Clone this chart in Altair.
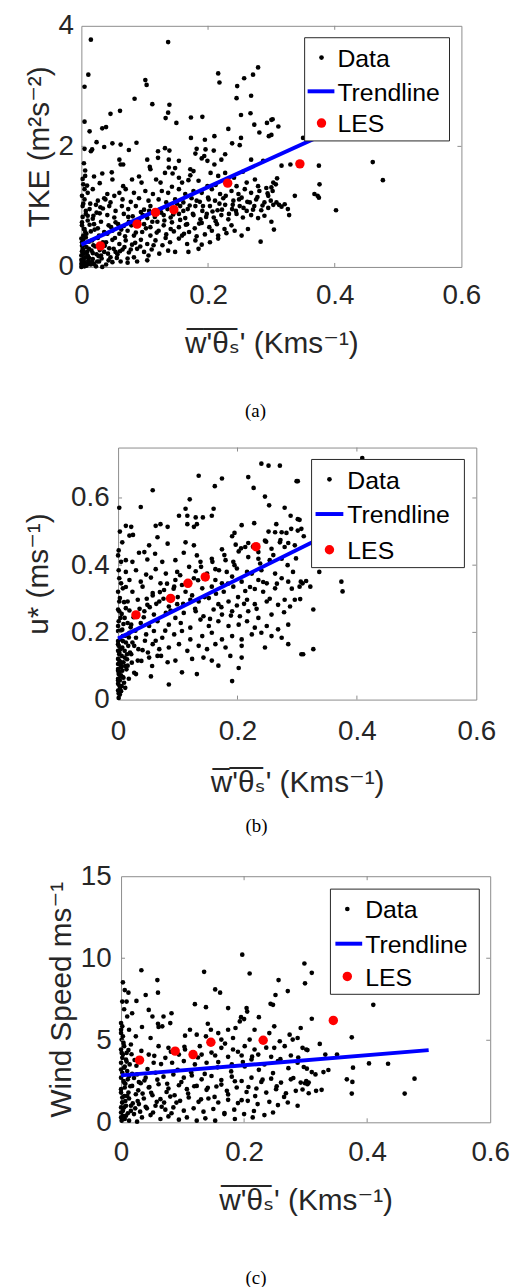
import altair as alt
import pandas as pd

FONT = "Liberation Sans, Arial, DejaVu Sans, sans-serif"
SERIF = "Liberation Serif, Times New Roman, serif"
AX = "#8c8c8c"
TXT = "#262626"

# ---------------- shared values ----------------
x_ticks = [0, 0.2, 0.4, 0.6]
x_title = "w\u0305'\u0305\u03b8\u0305\u209b' (Kms\u207b\u00b9)"
legend_labels = ["Data", "Trendline", "LES"]

les_x = [0.030, 0.088, 0.117, 0.146, 0.231, 0.345]
trend_x = [0.0, 0.5]

# ---------------- panel (a): TKE ----------------
les_tke = [0.35, 0.71, 0.905, 0.95, 1.39, 1.71]
trend_tke = [0.37, 2.76]
tke_pts = [
    [0.015,3.77],[0.137,3.73],[0.011,3.19],[0.216,3.21],[0.279,3.31],[0.271,3.19],[0.257,3.13],[0.101,3.10],
    [0.103,3.02],[0.218,3.06],[0.246,3.00],[0.005,2.99],[0.084,2.79],[0.245,2.80],[0.268,2.84],[0.112,2.70],
    [0.139,2.69],[0.137,2.56],[0.046,2.54],[0.061,2.59],[0.005,2.41],[0.133,2.47],[0.150,2.39],[0.173,2.48],
    [0.191,2.49],[0.252,2.52],[0.267,2.55],[0.273,2.36],[0.293,2.39],[0.300,2.44],[0.013,2.25],[0.033,2.30],
    [0.039,2.32],[0.232,2.29],[0.252,2.14],[0.281,2.23],[0.173,2.14],[0.195,2.11],[0.210,2.17],[0.296,2.17],
    [0.024,2.07],[0.036,1.99],[0.049,2.05],[0.062,2.03],[0.087,2.06],[0.132,1.97],[0.182,1.96],[0.196,1.95],
    [0.180,1.88],[0.209,1.93],[0.227,1.87],[0.250,2.02],[0.238,2.05],[0.005,1.96],[0.015,1.92],[0.017,1.95],
    [0.060,1.78],[0.075,1.94],[0.121,1.92],[0.139,1.93],[0.104,1.78],[0.108,1.66],[0.121,1.81],[0.138,1.78],
    [0.154,1.76],[0.062,1.70],[0.066,1.70],[0.138,1.65],[0.148,1.64],[0.172,1.62],[0.190,1.80],[0.194,1.84],
    [0.199,1.76],[0.221,1.78],[0.210,1.70],[0.268,1.78],[0.287,1.76],
    [0.006,1.51],[0.020,1.50],[0.033,1.55],[0.048,1.57],[0.091,1.50],[0.109,1.62],[0.118,1.45],[0.132,1.56],
    [0.144,1.55],[0.154,1.48],[0.172,1.52],[0.177,1.59],[0.204,1.56],[0.216,1.51],[0.227,1.56],[0.241,1.48],
    [0.255,1.58],[0.274,1.45],[0.003,1.37],[0.029,1.39],[0.049,1.45],[0.066,1.34],[0.080,1.45],[0.095,1.40],
    [0.125,1.40],[0.143,1.33],[0.159,1.40],[0.169,1.44],[0.185,1.43],[0.199,1.34],[0.212,1.36],[0.245,1.34],
    [0.261,1.40],[0.279,1.34],[0.292,1.31],
    [0.010,1.23],[0.018,1.29],[0.041,1.21],[0.052,1.18],[0.060,1.23],[0.070,1.29],[0.083,1.23],[0.101,1.26],
    [0.113,1.21],[0.127,1.26],[0.137,1.23],[0.154,1.29],[0.164,1.21],[0.177,1.26],[0.190,1.23],[0.206,1.29],
    [0.219,1.21],[0.237,1.26],[0.248,1.21],[0.258,1.29],[0.268,1.23],[0.281,1.26],[0.295,1.18],
    [0.005,1.12],[0.026,1.10],[0.036,1.14],[0.046,1.07],[0.065,1.12],[0.078,1.08],[0.091,1.14],[0.106,1.10],
    [0.122,1.12],[0.134,1.07],[0.148,1.12],[0.161,1.07],[0.174,1.14],[0.187,1.08],[0.200,1.15],[0.211,1.10],
    [0.224,1.14],[0.240,1.10],[0.253,1.15],[0.266,1.07],[0.276,1.12],[0.289,1.07],[0.299,1.10],
    [0.002,1.01],[0.013,0.96],[0.023,1.03],[0.034,0.97],[0.044,1.01],[0.054,0.93],[0.064,1.01],[0.074,0.96],
    [0.086,1.01],[0.099,0.95],[0.109,1.01],[0.125,0.96],[0.135,1.01],[0.156,1.01],[0.168,0.96],[0.180,1.01],
    [0.191,0.93],[0.203,1.01],[0.215,0.94],[0.227,1.03],[0.238,0.96],[0.250,1.01],[0.261,0.93],[0.273,1.01],
    [0.284,0.94],[0.295,0.98],
    [0.007,0.88],[0.019,0.85],[0.029,0.89],[0.041,0.86],[0.052,0.82],[0.067,0.88],[0.081,0.84],[0.094,0.91],
    [0.104,0.81],[0.130,0.86],[0.141,0.82],[0.154,0.88],[0.164,0.81],[0.177,0.86],[0.188,0.79],[0.198,0.88],
    [0.209,0.82],[0.221,0.86],[0.232,0.79],[0.245,0.88],[0.255,0.82],[0.268,0.86],[0.279,0.81],[0.289,0.85],
    [0.001,0.74],[0.010,0.77],[0.020,0.71],[0.031,0.75],[0.043,0.69],[0.054,0.74],[0.067,0.68],[0.075,0.75],
    [0.099,0.71],[0.109,0.66],[0.120,0.75],[0.130,0.69],[0.143,0.74],[0.154,0.66],[0.167,0.71],[0.179,0.64],
    [0.190,0.73],[0.202,0.66],[0.214,0.71],[0.226,0.63],[0.237,0.69],[0.253,0.52],[0.263,0.63],[0.283,0.42],
    [0.005,0.63],[0.015,0.59],[0.026,0.64],[0.036,0.58],[0.049,0.60],[0.060,0.55],[0.073,0.60],[0.083,0.52],
    [0.096,0.58],[0.109,0.52],[0.122,0.60],[0.134,0.54],[0.146,0.59],[0.159,0.52],[0.170,0.58],[0.182,0.51],
    [0.195,0.54],[0.206,0.60],[0.216,0.52],[0.229,0.56],[0.242,0.60],
    [0.000,0.47],[0.007,0.49],[0.017,0.44],[0.026,0.48],[0.039,0.41],[0.049,0.45],[0.060,0.38],[0.070,0.44],
    [0.080,0.37],[0.094,0.45],[0.104,0.38],[0.117,0.44],[0.128,0.36],[0.140,0.41],[0.154,0.47],[0.167,0.38],
    [0.180,0.44],[0.190,0.37],[0.203,0.41],[0.216,0.47],
    [0.003,0.36],[0.012,0.30],[0.022,0.34],[0.044,0.31],[0.054,0.25],[0.065,0.29],[0.075,0.24],[0.088,0.30],
    [0.099,0.25],[0.111,0.29],[0.123,0.22],[0.137,0.27],[0.148,0.25],[0.169,0.25],[0.185,0.30],[0.002,0.22],
    [0.010,0.19],[0.018,0.23],[0.027,0.18],[0.036,0.25],[0.046,0.16],[0.057,0.21],[0.073,0.14],[0.083,0.16],
    [0.106,0.19],
    [0.000,0.12],[0.005,0.08],[0.011,0.11],[0.020,0.05],[0.028,0.09],[0.039,0.04],[0.049,0.08],[0.073,0.07],
    [0.104,0.11],[0.002,0.03],[0.008,0.02],[0.015,0.04],[0.023,0.01],[0.033,0.00],[0.006,0.16],[0.009,0.25],
    [0.000,0.05],[0.000,0.19],[0.002,0.30],[0.001,0.41],[0.003,0.52],[0.004,0.63],[0.001,0.09],[0.004,0.14],
    [0.007,0.06],[0.012,0.15],[0.017,0.08],[0.003,0.28],[0.001,0.35],
    [0.004,1.72],[0.006,1.60],[0.002,1.46],[0.005,1.29],[0.001,1.18],[0.003,1.05],[0.007,0.93],[0.002,0.83],
    [0.001,0.69],
    [0.021,0.62],[0.028,0.52],[0.034,0.41],[0.041,0.55],[0.047,0.66],[0.053,0.48],[0.058,0.71],[0.063,0.62],
    [0.069,0.51],[0.074,0.83],[0.079,0.69],[0.086,0.57],[0.091,0.78],[0.097,0.86],[0.102,0.64],[0.107,0.93],
    [0.112,0.75],[0.116,0.83],[0.119,0.57],[0.126,0.90],[0.131,0.77],[0.136,0.96],[0.141,0.63],[0.145,0.87],
    [0.151,1.05],[0.156,0.78],[0.161,0.93],[0.165,0.70],[0.171,1.02],[0.176,0.88],[0.182,1.10],[0.186,0.72],
    [0.192,1.01],[0.197,0.83],[0.201,1.12],[0.207,0.92],[0.212,0.76],[0.218,1.05],[0.222,0.95],[0.228,1.18],
    [0.233,0.88],[0.239,1.03],[0.244,0.93],[0.249,1.12],[0.256,0.98],[0.262,1.08],[0.271,0.95],[0.278,1.16],
    [0.286,1.02],[0.294,1.22],
    [0.004,0.22],[0.008,0.33],[0.012,0.42],[0.016,0.27],[0.019,0.36],[0.024,0.21],[0.029,0.28],[0.032,0.14],
    [0.037,0.35],[0.042,0.22],[0.051,0.30],[0.056,0.15],[0.061,0.26],[0.068,0.33],[0.078,0.29],[0.085,0.40],
    [0.093,0.34],[0.114,0.36],[0.133,0.48],[0.162,0.55],[0.008,0.55],[0.013,0.70],[0.018,0.80],[0.024,0.90],
    [0.030,0.99],[0.038,1.12],[0.003,0.45],[0.006,0.58],[0.010,0.85],[0.014,1.05],[0.009,1.35],[0.012,0.08],
    [0.018,0.13],[0.025,0.09],[0.031,0.19],[0.043,0.11],[0.062,0.09],[0.088,0.09],[0.001,0.26],[0.000,0.00],
    [0.005,0.01],[0.009,0.04],
    [0.302,2.45],[0.311,2.33],[0.300,2.19],[0.350,2.14],[0.316,1.68],[0.330,1.70],[0.375,1.68],[0.460,1.74],
    [0.476,1.44],[0.309,1.47],[0.303,1.40],[0.307,1.37],[0.300,1.32],[0.302,1.26],[0.376,1.37],[0.337,1.18],
    [0.368,1.21],[0.373,1.18],[0.375,1.15],[0.321,1.04],[0.326,0.96],[0.328,0.86],[0.308,1.07],[0.312,1.03],
    [0.316,1.00],[0.303,1.03],[0.300,0.75],[0.304,0.62],[0.402,0.94],
]

# ---------------- panel (b): u* ----------------
les_ustar = [0.252, 0.301, 0.346, 0.365, 0.455, 0.52]
trend_ustar = [0.182, 0.622]
ustar_pts = [
    [0.240,0.702],[0.252,0.696],[0.271,0.696],[0.135,0.666],[0.174,0.658],[0.218,0.662],[0.299,0.650],[0.058,0.623],
    [0.162,0.635],[0.227,0.630],[0.120,0.596],[0.246,0.604],[0.002,0.571],[0.038,0.573],[0.113,0.568],[0.160,0.568],
    [0.253,0.578],[0.279,0.571],[0.102,0.547],[0.116,0.547],[0.130,0.542],[0.142,0.542],[0.157,0.547],[0.289,0.547],
    [0.301,0.537],[0.003,0.500],[0.013,0.517],[0.022,0.514],[0.063,0.517],[0.071,0.522],[0.083,0.514],[0.116,0.522],
    [0.127,0.514],[0.132,0.522],[0.207,0.519],[0.228,0.525],[0.265,0.522],[0.195,0.496],[0.066,0.483],[0.019,0.488],
    [0.025,0.490],[0.252,0.500],[0.263,0.498],[0.274,0.498],[0.282,0.496],[0.290,0.508],[0.052,0.459],[0.083,0.464],
    [0.113,0.468],[0.127,0.459],[0.191,0.486],[0.197,0.461],[0.218,0.466],[0.246,0.473],[0.271,0.468],[0.285,0.466],
    [0.001,0.444],[0.035,0.437],[0.044,0.439],[0.062,0.434],[0.110,0.437],[0.132,0.429],[0.174,0.447],[0.202,0.441],
    [0.213,0.454],[0.235,0.439],[0.257,0.449],[0.279,0.454],[0.296,0.459],
    [0.013,0.415],[0.024,0.410],[0.049,0.417],[0.074,0.410],[0.096,0.415],[0.138,0.410],[0.157,0.419],[0.180,0.415],
    [0.193,0.410],[0.218,0.424],[0.235,0.419],[0.254,0.415],[0.274,0.419],
    [0.013,0.380],[0.030,0.385],[0.047,0.372],[0.063,0.388],[0.080,0.375],[0.099,0.380],[0.130,0.382],[0.163,0.388],
    [0.182,0.380],[0.199,0.390],[0.224,0.375],[0.240,0.385],[0.263,0.375],[0.293,0.380],
    [0.002,0.361],[0.019,0.356],[0.038,0.351],[0.055,0.363],[0.071,0.346],[0.096,0.356],[0.113,0.321],[0.127,0.361],
    [0.163,0.356],[0.174,0.346],[0.191,0.366],[0.207,0.351],[0.235,0.356],[0.249,0.346],[0.274,0.361],[0.285,0.351],
    [0.008,0.331],[0.024,0.321],[0.041,0.336],[0.058,0.317],[0.077,0.326],[0.094,0.336],[0.107,0.341],[0.141,0.331],
    [0.157,0.336],[0.177,0.321],[0.193,0.336],[0.213,0.323],[0.229,0.329],[0.243,0.321],[0.263,0.331],[0.279,0.297],
    [0.296,0.297],
    [0.003,0.302],[0.016,0.292],[0.033,0.297],[0.049,0.282],[0.069,0.292],[0.085,0.277],[0.099,0.284],[0.121,0.297],
    [0.135,0.292],[0.152,0.302],[0.168,0.284],[0.185,0.292],[0.199,0.280],[0.216,0.297],[0.229,0.284],[0.249,0.292],
    [0.268,0.282],[0.288,0.277],
    [0.002,0.263],[0.013,0.272],[0.044,0.263],[0.060,0.253],[0.080,0.258],[0.096,0.243],[0.110,0.258],[0.130,0.263],
    [0.143,0.248],[0.160,0.268],[0.174,0.253],[0.191,0.263],[0.204,0.248],[0.218,0.263],[0.235,0.243],[0.257,0.253],
    [0.001,0.233],[0.011,0.243],[0.022,0.223],[0.038,0.228],[0.052,0.219],[0.066,0.233],[0.085,0.223],[0.105,0.228],
    [0.121,0.214],[0.138,0.238],[0.152,0.219],[0.168,0.233],[0.185,0.219],[0.202,0.223],[0.216,0.233],[0.229,0.214],
    [0.249,0.219],[0.268,0.209],[0.285,0.223],
    [0.000,0.204],[0.008,0.189],[0.019,0.199],[0.030,0.184],[0.047,0.194],[0.060,0.204],[0.074,0.184],[0.094,0.194],
    [0.107,0.204],[0.121,0.179],[0.141,0.189],[0.157,0.199],[0.174,0.179],[0.191,0.189],[0.207,0.179],[0.224,0.194],
    [0.240,0.199],[0.257,0.189],[0.274,0.184],
    [0.000,0.165],[0.007,0.155],[0.013,0.170],[0.027,0.160],[0.041,0.147],[0.058,0.165],[0.069,0.150],[0.085,0.155],
    [0.102,0.165],[0.116,0.145],[0.135,0.160],[0.149,0.150],[0.163,0.165],[0.180,0.155],[0.207,0.160],[0.246,0.155],
    [0.285,0.165],[0.310,0.135],
    [0.002,0.135],[0.011,0.125],[0.022,0.135],[0.033,0.116],[0.052,0.125],[0.066,0.130],[0.096,0.116],[0.124,0.121],
    [0.143,0.125],[0.188,0.130],[0.157,0.116],[0.207,0.125],
    [0.000,0.106],[0.005,0.096],[0.016,0.101],[0.030,0.076],[0.055,0.069],[0.083,0.111],[0.107,0.081],[0.132,0.076],
    [0.168,0.101],[0.202,0.094],
    [0.001,0.076],[0.008,0.067],[0.000,0.047],[0.003,0.032],[0.018,0.062],[0.012,0.035],[0.085,0.045],[0.191,0.055],
    [0.001,0.018],[0.005,0.025],
    [0.000,0.062],[0.000,0.086],[0.002,0.116],[0.000,0.145],[0.003,0.179],[0.000,0.219],[0.004,0.243],[0.000,0.268],
    [0.002,0.292],[0.000,0.321],[0.005,0.346],[0.001,0.385],[0.005,0.410],[0.000,0.429],[0.007,0.468],
    [0.000,0.174],[0.001,0.160],[0.002,0.140],[0.000,0.121],[0.003,0.106],[0.000,0.091],[0.002,0.081],[0.005,0.072],
    [0.000,0.057],[0.002,0.042],[0.000,0.027],[0.003,0.057],[0.007,0.086],[0.009,0.111],[0.011,0.145],[0.008,0.174],
    [0.004,0.150],[0.006,0.130],[0.006,0.100],[0.004,0.070],[0.010,0.050],[0.014,0.090],[0.015,0.120],[0.017,0.160],
    [0.012,0.190],[0.020,0.140],[0.023,0.110],[0.027,0.080],[0.004,0.205],[0.009,0.225],[0.006,0.255],
    [0.031,0.255],[0.036,0.270],[0.043,0.245],[0.048,0.300],[0.053,0.275],[0.058,0.310],[0.064,0.285],[0.070,0.320],
    [0.076,0.300],[0.082,0.345],[0.088,0.265],[0.093,0.330],[0.100,0.305],[0.104,0.370],[0.109,0.285],[0.115,0.345],
    [0.119,0.395],[0.124,0.310],[0.129,0.270],[0.134,0.355],[0.139,0.395],[0.145,0.305],[0.149,0.375],[0.154,0.240],
    [0.158,0.410],[0.164,0.315],[0.169,0.385],[0.173,0.275],[0.178,0.430],[0.184,0.345],[0.189,0.250],[0.195,0.400],
    [0.201,0.305],[0.206,0.450],[0.211,0.285],[0.216,0.380],[0.221,0.335],[0.226,0.455],[0.232,0.270],[0.238,0.405],
    [0.243,0.350],[0.248,0.470],[0.254,0.300],[0.260,0.430],[0.266,0.345],[0.272,0.475],[0.278,0.260],[0.284,0.400],
    [0.291,0.330],[0.298,0.420],
    [0.003,0.015],[0.006,0.040],[0.009,0.065],[0.012,0.100],[0.015,0.135],[0.018,0.185],[0.021,0.215],[0.024,0.170],
    [0.026,0.245],[0.029,0.205],[0.034,0.150],[0.039,0.115],[0.045,0.175],[0.050,0.140],[0.057,0.100],[0.063,0.175],
    [0.072,0.130],[0.079,0.205],[0.001,0.005],[0.004,0.112],[0.007,0.208],[0.010,0.290],[0.013,0.335],[0.016,0.228],
    [0.019,0.265],
    [0.409,0.719],[0.301,0.650],[0.304,0.535],[0.307,0.508],[0.311,0.486],[0.301,0.503],[0.337,0.380],[0.374,0.351],
    [0.376,0.322],[0.306,0.351],[0.309,0.346],[0.315,0.353],[0.322,0.336],[0.304,0.336],[0.305,0.299],[0.327,0.268],
    [0.327,0.150],[0.307,0.135],
]

# ---------------- panel (c): wind speed ----------------
les_ws = [3.79, 4.34, 4.13, 4.88, 5.00, 6.21]
trend_ws = [2.86, 4.40]
ws_pts = [
    [0.197,10.22],[0.033,9.27],[0.135,9.17],[0.209,9.07],[0.059,8.67],[0.003,8.53],[0.298,9.68],[0.299,8.47],
    [0.256,8.67],[0.271,8.00],[0.153,8.10],[0.161,7.90],[0.006,8.06],[0.012,7.90],[0.060,7.90],[0.040,7.76],
    [0.251,7.76],[0.002,7.36],[0.009,7.36],[0.025,7.40],[0.120,7.20],[0.138,7.02],[0.174,6.96],[0.204,6.96],
    [0.243,7.22],[0.247,7.16],[0.205,6.75],[0.005,6.89],[0.018,6.65],[0.045,6.85],[0.010,6.45],[0.051,6.45],
    [0.069,6.45],[0.082,6.65],[0.195,6.41],[0.224,6.41],[0.193,6.15],[0.200,6.29],
    [0.002,5.85],[0.013,5.64],[0.034,5.81],[0.060,6.01],[0.067,5.85],[0.061,5.81],[0.080,6.05],[0.112,5.64],
    [0.141,6.01],[0.146,5.64],[0.158,5.44],[0.174,5.64],[0.186,5.75],[0.217,5.64],[0.241,5.44],[0.249,5.85],
    [0.274,5.34],[0.292,5.75],
    [0.003,5.24],[0.024,5.24],[0.048,5.14],[0.104,5.28],[0.123,5.34],[0.138,5.24],[0.163,5.04],[0.182,5.14],
    [0.209,5.04],[0.258,4.94],[0.279,5.04],[0.287,5.14],
    [0.005,4.64],[0.016,4.74],[0.061,4.64],[0.077,4.54],[0.104,4.44],[0.128,4.64],[0.163,4.54],[0.182,4.44],
    [0.201,4.64],[0.217,4.44],[0.249,4.54],[0.266,4.64],[0.295,4.54],
    [0.001,4.23],[0.045,4.13],[0.072,3.93],[0.094,4.13],[0.131,4.13],[0.153,4.07],[0.174,3.99],[0.196,4.07],
    [0.223,4.13],[0.244,3.99],[0.276,4.07],
    [0.008,3.83],[0.053,3.63],[0.083,3.63],[0.102,3.73],[0.120,3.53],[0.139,3.63],[0.158,3.67],[0.180,3.53],
    [0.198,3.67],[0.212,3.83],[0.233,3.53],[0.255,3.73],[0.287,3.63],
    [0.002,3.02],[0.013,2.82],[0.026,2.92],[0.040,2.72],[0.056,3.02],[0.069,2.78],[0.085,2.92],[0.102,2.72],
    [0.115,2.86],[0.131,2.62],[0.147,2.82],[0.163,2.58],[0.180,2.78],[0.196,2.52],[0.212,2.72],[0.228,2.46],
    [0.244,2.66],[0.260,2.42],[0.276,2.62],[0.292,2.42],
    [0.005,2.42],[0.018,2.22],[0.032,2.38],[0.045,2.12],[0.061,2.32],[0.077,2.06],[0.094,2.26],[0.107,2.02],
    [0.123,2.22],[0.139,1.98],[0.155,2.18],[0.172,1.92],[0.188,2.12],[0.204,1.85],[0.220,2.06],[0.236,1.81],
    [0.252,2.02],[0.268,1.77],[0.284,1.92],
    [0.000,1.81],[0.010,1.61],[0.024,1.71],[0.037,1.45],[0.051,1.65],[0.064,1.41],[0.080,1.57],[0.096,1.31],
    [0.110,1.51],[0.126,1.25],[0.142,1.45],[0.158,1.21],[0.174,1.37],[0.190,1.17],[0.206,1.31],[0.222,1.11],
    [0.255,1.05],[0.271,1.21],[0.287,1.01],
    [0.002,1.21],[0.016,1.01],[0.029,1.11],[0.042,0.85],[0.056,1.01],[0.072,0.77],[0.085,0.91],[0.102,0.71],
    [0.118,0.85],[0.134,0.65],[0.150,0.81],[0.168,0.56],[0.184,0.77],[0.200,0.50],[0.216,0.69],[0.233,0.44],
    [0.247,0.60],
    [0.000,0.60],[0.008,0.40],[0.021,0.50],[0.034,0.30],[0.048,0.44],[0.064,0.20],[0.077,0.36],[0.094,0.16],
    [0.107,0.30],[0.123,0.10],[0.137,0.24],[0.153,0.10],[0.168,0.50],[0.185,0.20],[0.214,0.30],[0.001,0.10],
    [0.013,0.10],[0.026,0.04],
    [0.000,5.44],[0.001,5.04],[0.000,4.44],[0.003,4.13],[0.000,3.63],[0.005,3.33],[0.000,2.72],[0.006,2.12],
    [0.000,2.02],[0.002,1.51],[0.005,0.91],[0.000,0.91],[0.003,0.40],[0.008,1.01],[0.010,3.12],[0.009,4.23],
    [0.000,6.05],[0.000,5.64],[0.004,4.84],[0.002,3.93],[0.000,3.22],[0.004,2.52],[0.002,1.21],[0.000,0.30],
    [0.006,0.20],[0.011,2.62],[0.012,1.81],[0.014,3.53],[0.016,0.70],[0.007,1.30],
    [0.006,3.40],[0.012,4.40],[0.018,2.95],[0.022,3.80],[0.028,1.95],[0.033,4.35],[0.038,2.55],[0.043,3.25],
    [0.049,1.80],[0.054,4.05],[0.059,2.60],[0.065,3.55],[0.070,1.20],[0.075,2.35],[0.081,4.30],[0.087,1.65],
    [0.092,3.20],[0.098,2.45],[0.103,4.60],[0.109,1.75],[0.114,3.05],[0.119,2.20],[0.125,3.95],[0.130,1.40],
    [0.136,2.95],[0.141,2.10],[0.147,4.25],[0.152,1.55],[0.157,3.35],[0.163,2.30],[0.169,4.80],[0.174,1.70],
    [0.179,3.10],[0.185,2.50],[0.190,4.30],[0.196,1.35],[0.201,3.40],[0.207,2.15],[0.213,4.00],[0.218,1.60],
    [0.224,3.20],[0.230,2.60],[0.236,4.55],[0.241,1.25],[0.247,3.00],[0.253,2.20],[0.259,3.85],[0.265,1.55],
    [0.272,3.30],[0.280,2.70],[0.288,3.95],[0.295,2.00],
    [0.003,0.70],[0.005,1.60],[0.007,2.35],[0.009,3.70],[0.011,0.55],[0.013,1.45],[0.015,2.20],[0.017,4.15],
    [0.019,1.15],[0.021,2.70],[0.023,0.85],[0.025,3.45],[0.027,1.30],[0.029,2.45],[0.031,0.65],[0.035,1.75],
    [0.040,0.95],[0.046,2.15],[0.052,0.60],[0.058,1.25],[0.066,0.95],[0.074,1.85],[0.082,0.55],[0.090,1.20],
    [0.310,9.11],[0.410,7.16],[0.310,6.31],[0.375,5.18],[0.323,4.78],[0.301,4.44],[0.303,4.40],[0.332,4.13],
    [0.351,4.13],[0.403,3.59],[0.434,3.57],[0.377,3.33],[0.297,3.37],[0.302,3.27],[0.310,3.06],[0.316,2.92],
    [0.329,3.06],[0.337,3.19],[0.367,2.62],[0.376,2.46],[0.301,2.52],[0.305,2.42],[0.303,2.32],[0.299,2.38],
    [0.477,2.66],[0.461,1.75],[0.375,1.75],[0.326,1.98],[0.317,1.92],[0.305,1.77],
]


def panel(pts, les_y, trend_y, ydom, yticks, ytitle, w, h,
          ylab_pad, ytitle_pad, xlab_pad, xtitle_pad, leg, caption, cap_dx, cap_off):
    df = pd.DataFrame(pts, columns=["x", "y"])
    les = pd.DataFrame({"x": les_x, "y": les_y})
    tr = pd.DataFrame({"x": trend_x, "y": trend_y})
    X = alt.X("x:Q", scale=alt.Scale(domain=[0, 0.6], nice=False, zero=False),
              axis=alt.Axis(values=x_ticks, format="~g", title=x_title,
                            labelPadding=xlab_pad, titlePadding=xtitle_pad))
    Y = alt.Y("y:Q", scale=alt.Scale(domain=ydom, nice=False, zero=False),
              axis=alt.Axis(values=yticks, format="~g", title=ytitle,
                            labelPadding=ylab_pad, titlePadding=ytitle_pad))
    layers = [
        alt.Chart(df).mark_circle(color="black", size=22, opacity=1).encode(x=X, y=Y),
        alt.Chart(tr).mark_line(color="#0000ff", strokeWidth=4).encode(x=X, y=Y),
        alt.Chart(les).mark_circle(color="#ff0000", size=90, opacity=1).encode(x=X, y=Y),
    ]
    # inward ticks on all four sides (box on)
    xt = pd.DataFrame({"x": x_ticks[1:-1]})
    yt = pd.DataFrame({"y": [v for v in yticks if ydom[0] < v < ydom[1]]})
    layers += [
        alt.Chart(xt).mark_rule(color=AX, strokeWidth=1).encode(x=X, y=alt.value(h), y2=alt.value(h - 4)),
        alt.Chart(xt).mark_rule(color=AX, strokeWidth=1).encode(x=X, y=alt.value(0), y2=alt.value(4)),
        alt.Chart(yt).mark_rule(color=AX, strokeWidth=1).encode(y=Y, x=alt.value(0), x2=alt.value(4)),
        alt.Chart(yt).mark_rule(color=AX, strokeWidth=1).encode(y=Y, x=alt.value(w - 4), x2=alt.value(w)),
    ]
    # legend box (drawn inside the axes, like MATLAB's 'northeast' legend)
    one = pd.DataFrame({"t": [0]})
    layers += [
        alt.Chart(one).mark_rect(fill="white", stroke="#262626", strokeWidth=1).encode(
            x=alt.value(leg["x0"]), x2=alt.value(leg["x1"]),
            y=alt.value(leg["y0"]), y2=alt.value(leg["y1"])),
        alt.Chart(one).mark_circle(color="black", size=22, opacity=1).encode(
            x=alt.value(leg["sx"]), y=alt.value(leg["ry"][0])),
        alt.Chart(one).mark_rule(color="#0000ff", strokeWidth=4).encode(
            x=alt.value(leg["lx0"]), x2=alt.value(leg["lx1"]), y=alt.value(leg["ry"][1])),
        alt.Chart(one).mark_circle(color="#ff0000", size=90, opacity=1).encode(
            x=alt.value(leg["sx"]), y=alt.value(leg["ry"][2])),
    ]
    for i, lab in enumerate(legend_labels):
        layers.append(
            alt.Chart(pd.DataFrame({"t": [lab]})).mark_text(
                align="left", baseline="middle", fontSize=25, font=FONT, color="black").encode(
                text="t:N", x=alt.value(leg["tx"]), y=alt.value(leg["ry"][i] + 1.5)))
    return alt.layer(*layers).properties(
        width=w, height=h,
        title=alt.TitleParams(caption, orient="bottom", anchor="middle", frame="group",
                              dx=cap_dx, offset=cap_off, font=SERIF, fontSize=19,
                              fontWeight="normal", color="black"))


def spacer(wd):
    return alt.Chart(pd.DataFrame({"t": [0]})).mark_point(opacity=0).encode(
        x=alt.value(0), y=alt.value(0)).properties(
        width=wd, height=1, view=alt.ViewBackground(stroke="transparent"))


pa = panel(tke_pts, les_tke, trend_tke, [0, 4], [0, 2, 4], "TKE (m\u00b2s\u207b\u00b2)",
           383, 243, 8, 4, 15, 19,
           dict(x0=225, x1=371, y0=12, y1=116, sx=242, lx0=228, lx1=255, tx=258, ry=[32, 66, 98]),
           "(a)", -16, 44)
pb = panel(ustar_pts, les_ustar, trend_ustar, [0, 0.75], [0, 0.2, 0.4, 0.6], "u* (ms\u207b\u00b9)",
           361, 254, 9, 17, 18, 23,
           dict(x0=195, x1=349, y0=12, y1=121, sx=213, lx0=199, lx1=227, tx=231, ry=[32, 67, 103]),
           "(b)", -41, 19)
pc = panel(ws_pts, les_ws, trend_ws, [0, 15], [0, 5, 10, 15], "Wind Speed ms\u207b\u00b9",
           372, 248, 10, 4, 16, 20,
           dict(x0=211, x1=361, y0=13, y1=119, sx=228, lx0=216, lx1=243, tx=246, ry=[33, 68, 101]),
           "(c)", -50, 54)

chart = alt.vconcat(
    alt.hconcat(spacer(13), pa, spacing=0),
    alt.vconcat(
        alt.hconcat(spacer(13), pb, spacing=0),
        alt.hconcat(spacer(36), pc, spacing=0),
        spacing=25,
    ),
    spacing=22,
).properties(
    padding={"left": 5, "top": 6, "right": 5, "bottom": 0},
    background="white",
).configure_view(
    stroke=AX, strokeWidth=1
).configure_axis(
    labelFont=FONT, titleFont=FONT, labelFontSize=28, titleFontSize=30,
    labelColor=TXT, titleColor=TXT, titleFontWeight="normal",
    ticks=False, domain=False, grid=False, labelFlush=False, labelOverlap=False,
)

chart.save("out.html", embed_options={"renderer": "svg", "actions": False})
